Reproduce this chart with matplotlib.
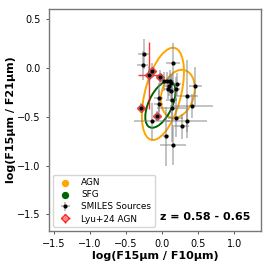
import numpy as np
import matplotlib
matplotlib.use("Agg")
import matplotlib.pyplot as plt
from matplotlib.patches import Ellipse

# SMILES sources in this redshift bin
smiles_x = [-0.25, -0.27, 0.15, -0.14, -0.18, -0.03, 0.03, 0.07, 0.11, 0.12, 0.09, 0.20, 0.08, 0.125,
            0.185, 0.46, 0.35, 0.13, -0.05, -0.05, 0.13, 0.41, -0.29, -0.07, -0.14, 0.185, 0.34, 0.27, 0.15, 0.05]
smiles_y = [0.14, 0.025, 0.05, -0.03, -0.08, -0.10, -0.14, -0.14, -0.14, -0.16, -0.19, -0.17, -0.22, -0.235,
            -0.22, -0.19, -0.29, -0.33, -0.305, -0.375, -0.41, -0.39, -0.41, -0.49, -0.55, -0.51, -0.55, -0.60, -0.79, -0.70]
smiles_xerr = [0.08, 0.08, 0.10, 0.05, 0.06, 0.05, 0.05, 0.05, 0.06, 0.05, 0.05, 0.06, 0.05, 0.06,
               0.06, 0.09, 0.14, 0.08, 0.06, 0.06, 0.20, 0.30, 0.04, 0.05, 0.25, 0.10, 0.28, 0.10, 0.18, 0.04]
smiles_yerr = [0.15, 0.15, 0.20, 0.08, 0.10, 0.08, 0.10, 0.10, 0.12, 0.10, 0.10, 0.12, 0.10, 0.12,
               0.12, 0.20, 0.37, 0.20, 0.15, 0.15, 0.35, 0.12, 0.05, 0.05, 0.19, 0.20, 0.17, 0.13, 0.20, 0.30]

# Lyu+24 AGN
lyu_x = [-0.14, -0.18, -0.03, -0.29, -0.07]
lyu_y = [-0.03, -0.08, -0.10, -0.41, -0.49]
lyu_xerr = [0.03, 0.15, 0.03, 0.02, 0.02]
lyu_yerr = [0.03, 0.34, 0.03, 0.02, 0.02]

# ellipses: (x0, y0, width, height, angle)
agn_ell = [(0.01, -0.268, 0.996, 0.485, 68.2), (0.217, -0.268, 0.535, 0.42, 50.5)]
sfg_ell = [(-0.025, -0.375, 0.56, 0.30, 52.0)]

fig = plt.figure(figsize=(2.7, 2.7), dpi=100)
ax = fig.add_axes([0.181, 0.144, 0.786, 0.823])

for (x0, y0, w, h, a) in agn_ell:
    ax.add_patch(Ellipse((x0, y0), w, h, angle=a, fill=False, color='orange', lw=1.4, zorder=3))
for (x0, y0, w, h, a) in sfg_ell:
    ax.add_patch(Ellipse((x0, y0), w, h, angle=a, fill=False, color='darkgreen', lw=1.4, zorder=3))

lyu = ax.errorbar(lyu_x, lyu_y, xerr=lyu_xerr, yerr=lyu_yerr, fmt='D', ms=4.5, mfc=(1, 0.6, 0.6, 0.5),
                  mec='red', mew=1.0, ecolor='red', elinewidth=1.0, alpha=0.8, zorder=4)
smi = ax.errorbar(smiles_x, smiles_y, xerr=smiles_xerr, yerr=smiles_yerr, fmt='o', ms=2.0, mfc='black',
                  mec='black', ecolor=(0.5, 0.5, 0.5, 0.55), elinewidth=1.2, zorder=5)
agn = ax.scatter([], [], color='orange', s=18)
sfg = ax.scatter([], [], color='darkgreen', s=18)

ax.legend([agn, sfg, smi, lyu], ['AGN', 'SFG', 'SMILES Sources', 'Lyu+24 AGN'], loc='lower left',
          fontsize=6.4, borderaxespad=0.45, handletextpad=0.8, labelspacing=0.35)

ax.text(0.95, 0.065, 'z = 0.58 - 0.65', transform=ax.transAxes, ha='right', va='center',
        fontsize=8, fontweight='bold')

ax.set_xlim(-1.57, 1.37)
ax.set_ylim(-1.67, 0.60)
ax.set_xticks([-1.5, -1.0, -0.5, 0.0, 0.5, 1.0])
ax.set_yticks([-1.5, -1.0, -0.5, 0.0, 0.5])
ax.tick_params(labelsize=7, length=2.5, width=0.7, color='#555555')
for s in ax.spines.values():
    s.set_color('#777777')
    s.set_linewidth(1.0)
ax.set_xlabel('log(F15μm / F10μm)', fontsize=8, fontweight='bold', labelpad=1)
ax.set_ylabel('log(F15μm / F21μm)', fontsize=8, fontweight='bold', labelpad=1)

fig.savefig('out.png', dpi=100)
